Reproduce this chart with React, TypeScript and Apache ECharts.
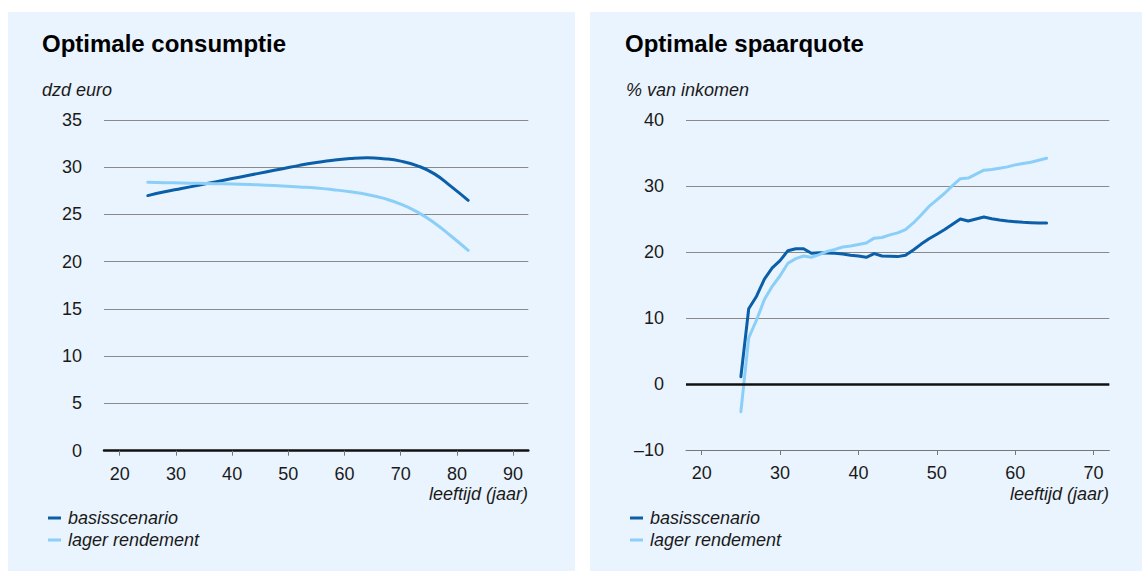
import React, { useEffect, useRef } from "react";
import * as echarts from "echarts";

// ---------- data ----------
const seriesNames = ["basisscenario", "lager rendement"];

// Optimale consumptie (dzd euro) by age
const consAges = [25, 28, 31, 34, 37, 40, 43, 46, 49, 52, 55, 58, 61, 64, 67, 70, 73, 76, 79, 82];
const consBasis = [27.0, 27.4, 27.75, 28.1, 28.45, 28.8, 29.15, 29.5, 29.85, 30.2, 30.5, 30.75, 30.92, 31.0, 30.9, 30.65, 30.15, 29.3, 27.95, 26.5];
const consLager = [28.4, 28.37, 28.33, 28.3, 28.26, 28.22, 28.17, 28.1, 28.02, 27.92, 27.8, 27.62, 27.4, 27.12, 26.7, 26.1, 25.25, 24.1, 22.7, 21.2];

// Optimale spaarquote (% van inkomen) by age
const spaarAges = [25, 26, 27, 28, 29, 30, 31, 32, 33, 34, 35, 36, 37, 38, 39, 40, 41, 42, 43, 44, 45, 46, 47, 48, 49, 50, 51, 52, 53, 54, 55, 56, 57, 58, 59, 60, 61, 62, 63, 64];
const spaarBasis = [1.1, 11.4, 13.3, 15.9, 17.6, 18.7, 20.2, 20.5, 20.5, 19.8, 19.9, 19.85, 19.8, 19.7, 19.5, 19.4, 19.2, 19.75, 19.4, 19.35, 19.3, 19.5, 20.3, 21.2, 22.0, 22.7, 23.4, 24.2, 25.0, 24.7, 25.0, 25.3, 25.05, 24.85, 24.7, 24.6, 24.5, 24.45, 24.4, 24.4];
const spaarLager = [-4.2, 7.0, 9.7, 12.8, 14.8, 16.4, 18.3, 19.0, 19.4, 19.2, 19.6, 20.1, 20.4, 20.75, 20.9, 21.15, 21.35, 22.1, 22.2, 22.6, 22.9, 23.4, 24.4, 25.6, 26.9, 27.9, 28.9, 30.05, 31.1, 31.2, 31.8, 32.4, 32.5, 32.7, 32.9, 33.2, 33.4, 33.6, 33.9, 34.2];

const consXTicks = [20, 30, 40, 50, 60, 70, 80, 90];
const spaarXTicks = [20, 30, 40, 50, 60, 70];

// ---------- style ----------
const FONT = '"Liberation Sans", Arial, Helvetica, sans-serif';
const DARK = "#0B5FA8";
const LIGHT = "#8BCFF9";
const PANEL = "#EAF4FE";
const TEXT = "#1a1a1a";

const zip = (xs: number[], ys: number[]) => xs.map((x, i) => [x, ys[i]]);

export default function App() {
  const ref = useRef<HTMLDivElement>(null);

  useEffect(() => {
    if (!ref.current) return;
    const chart = echarts.init(ref.current, undefined, { renderer: "svg" });

    const axisLabelBase = { fontSize: 18, color: TEXT, fontFamily: FONT };

    const xAxisCommon = (min: number, max: number, ticks: number[], gi: number, lineColor: string, lineWidth: number) => ({
      type: "value",
      gridIndex: gi,
      min,
      max,
      axisLine: { show: true, onZero: false, lineStyle: { color: lineColor, width: lineWidth } },
      axisTick: { show: true, customValues: ticks, length: 5, lineStyle: { color: "#777", width: 1 } },
      axisLabel: { ...axisLabelBase, customValues: ticks, margin: 14 },
      splitLine: { show: false },
    });

    const yAxisCommon = (min: number, max: number, interval: number, gi: number) => ({
      type: "value",
      gridIndex: gi,
      min,
      max,
      interval,
      axisLine: { show: false },
      axisTick: { show: false },
      axisLabel: {
        ...axisLabelBase,
        margin: 22,
        formatter: (v: number) => (v < 0 ? "\u2013" + Math.abs(v) : String(v)),
      },
      splitLine: { show: true, lineStyle: { color: "#8a8a8a", width: 1 } },
    });

    const lineSeries = (name: string, data: number[][], color: string, gi: number, smooth: boolean | number, extra: any = {}) => ({
      type: "line",
      name,
      xAxisIndex: gi,
      yAxisIndex: gi,
      data,
      color,
      smooth,
      showSymbol: false,
      symbol: "none",
      lineStyle: { color, width: 3, cap: "round", join: "round" },
      ...extra,
    });

    const legendCommon = (left: number) => ({
      data: seriesNames,
      left,
      top: 507,
      orient: "vertical",
      icon: "rect",
      itemWidth: 13,
      itemHeight: 3,
      itemGap: 0,
      padding: 0,
      selectedMode: false,
      textStyle: { fontSize: 18, fontStyle: "italic", fontFamily: FONT, color: TEXT, lineHeight: 22, padding: [0, 0, 0, 2] },
    });

    const txt = (text: string, x: number, y: number, opts: any = {}) => ({
      type: "text",
      x,
      y,
      z: 10,
      style: {
        text,
        fontSize: 18,
        fontFamily: FONT,
        fill: TEXT,
        verticalAlign: "middle",
        align: "left",
        ...opts,
      },
    });

    chart.setOption({
      animation: false,
      backgroundColor: "#ffffff",
      graphic: [
        { type: "rect", z: -10, shape: { x: 8, y: 12, width: 567, height: 559 }, style: { fill: PANEL } },
        { type: "rect", z: -10, shape: { x: 590, y: 12, width: 552, height: 559 }, style: { fill: PANEL } },
        txt("Optimale consumptie", 42, 43, { fontSize: 24, fontWeight: "bold", fill: "#000" }),
        txt("Optimale spaarquote", 625, 43, { fontSize: 24, fontWeight: "bold", fill: "#000" }),
        txt("dzd euro", 42, 90, { fontStyle: "italic" }),
        txt("% van inkomen", 626, 90, { fontStyle: "italic" }),
        txt("leeftijd (jaar)", 528, 494, { fontStyle: "italic", align: "right" }),
        txt("leeftijd (jaar)", 1109, 494, { fontStyle: "italic", align: "right" }),
      ],
      legend: [legendCommon(48), legendCommon(630)],
      grid: [
        { left: 104, top: 120, width: 424.3, height: 330.7 },
        { left: 686, top: 120, width: 423.3, height: 330 },
      ],
      xAxis: [
        xAxisCommon(17.2, 92.7, consXTicks, 0, "#111", 2.5),
        xAxisCommon(18, 72, spaarXTicks, 1, "#777", 1),
      ],
      yAxis: [yAxisCommon(0, 35, 5, 0), yAxisCommon(-10, 40, 10, 1)],
      series: [
        lineSeries(seriesNames[0], zip(consAges, consBasis), DARK, 0, 0.5),
        lineSeries(seriesNames[1], zip(consAges, consLager), LIGHT, 0, 0.5),
        lineSeries(seriesNames[0], zip(spaarAges, spaarBasis), DARK, 1, false, {
          markLine: {
            silent: true,
            symbol: ["none", "none"],
            label: { show: false },
            lineStyle: { color: "#111", width: 2.5, type: "solid" },
            data: [{ yAxis: 0 }],
          },
        }),
        lineSeries(seriesNames[1], zip(spaarAges, spaarLager), LIGHT, 1, false),
      ],
    });

    return () => chart.dispose();
  }, []);

  return (
    <div
      ref={ref}
      style={{ position: "absolute", left: 0, top: 0, width: 1142, height: 571, background: "#fff" }}
    />
  );
}
